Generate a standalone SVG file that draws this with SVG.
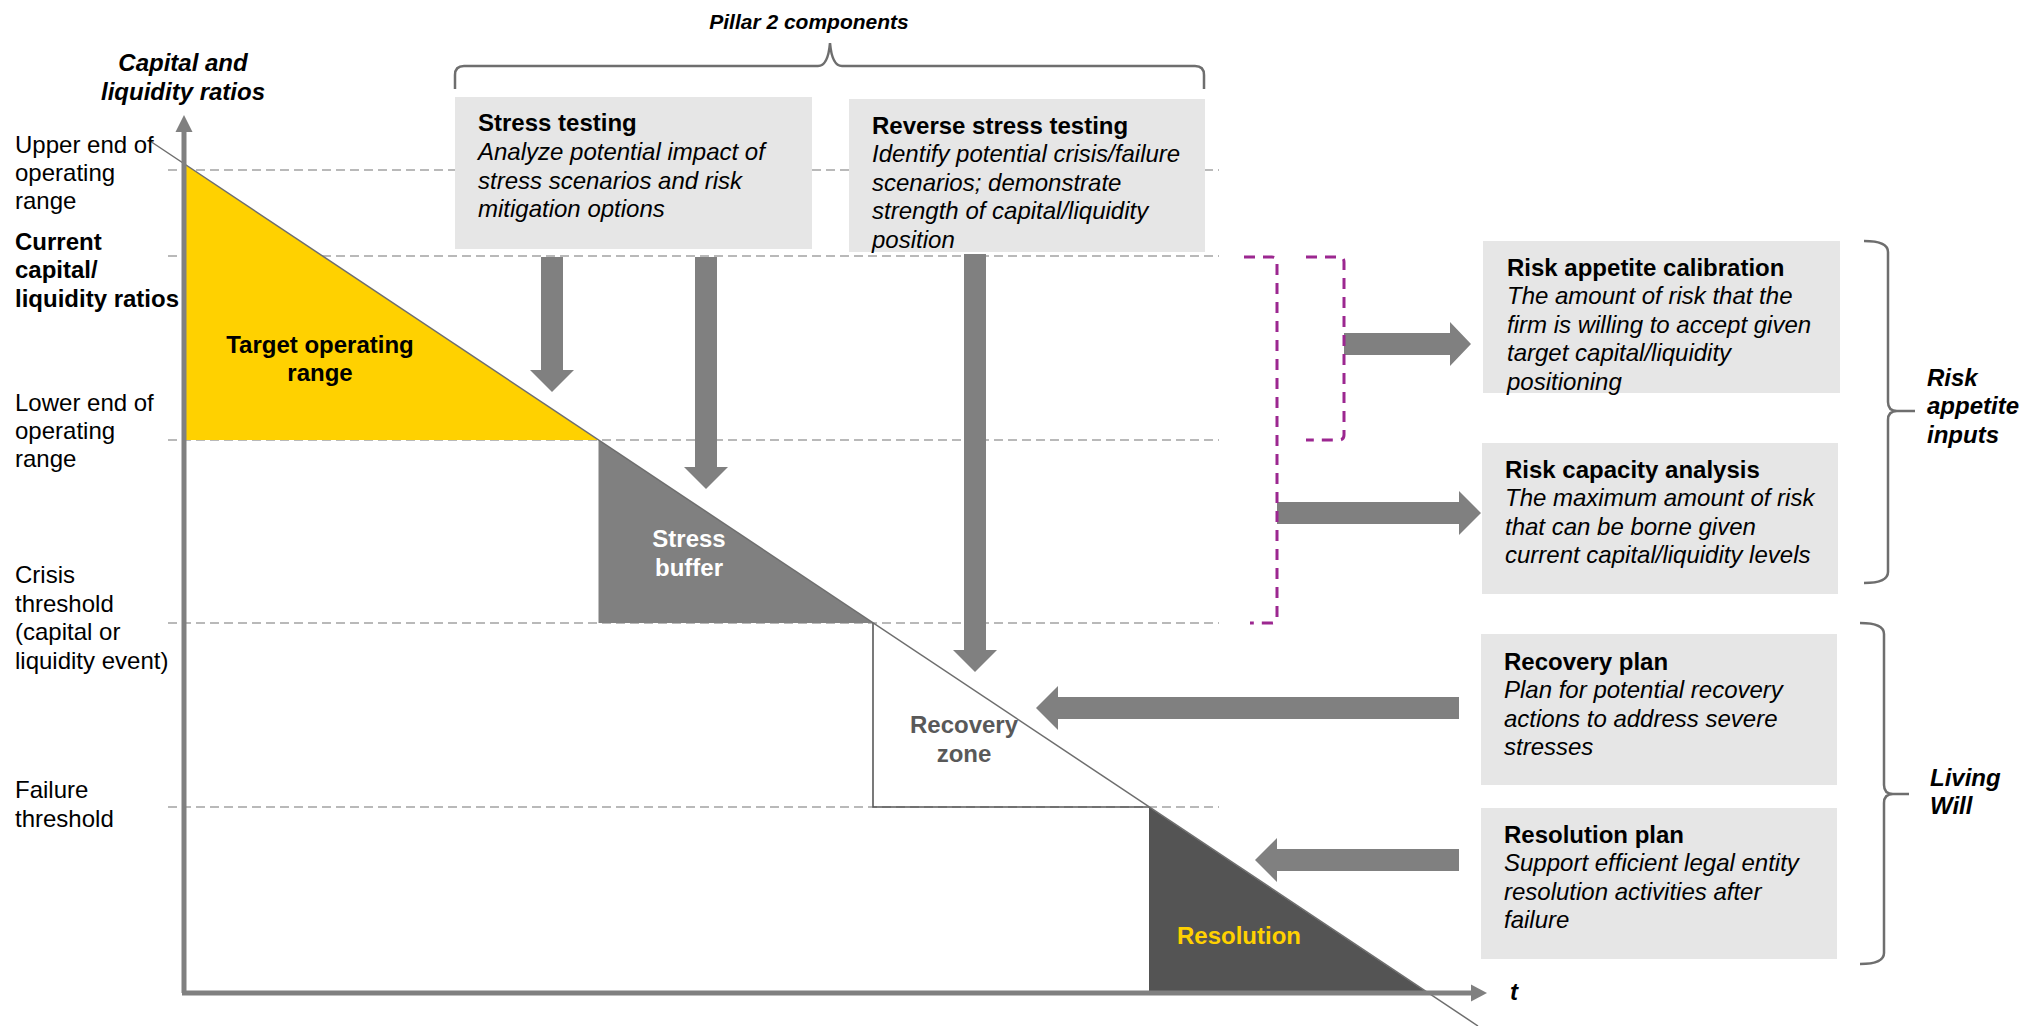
<svg xmlns="http://www.w3.org/2000/svg" width="2022" height="1026" viewBox="0 0 2022 1026">
<style>
text{font-family:"Liberation Sans",Arial,sans-serif;font-size:24px;fill:#000}
.b{font-weight:bold}
.i{font-style:italic}
.bi{font-weight:bold;font-style:italic}
.dash{stroke:#A3A3A3;stroke-width:1.6;stroke-dasharray:9 5;fill:none}
.pdash{stroke:#9C2790;stroke-width:3;stroke-dasharray:11 8;fill:none}
.box{fill:#E6E6E6}
.arr{fill:#808080}
.brace{stroke:#6E6E6E;stroke-width:2.5;fill:none}
.c{text-anchor:middle}
</style>
<rect width="2022" height="1026" fill="#fff"/>

<g id="gridlines">
<line class="dash" x1="168" y1="170" x2="1219" y2="170"/>
<line class="dash" x1="168" y1="256" x2="1219" y2="256"/>
<line class="dash" x1="168" y1="440" x2="1219" y2="440"/>
<line class="dash" x1="168" y1="623" x2="1219" y2="623"/>
<line class="dash" x1="168" y1="807" x2="1219" y2="807"/>
</g>

<g id="zones">
<g id="target-zone">
<polygon points="184,163.7 598.5,440 184,440" fill="#FFD100"/>
<text class="b c" x="320" y="353">Target operating</text>
<text class="b c" x="320" y="381">range</text>
</g>
<g id="stress-buffer">
<polygon points="598.5,440 873,623 598.5,623" fill="#808080"/>
<text class="b c" x="689" y="547" style="fill:#fff">Stress</text>
<text class="b c" x="689" y="576" style="fill:#fff">buffer</text>
</g>
<g id="recovery-zone">
<polyline points="873,623 873,807 1149,807" fill="none" stroke="#595959" stroke-width="1.6"/>
<text class="b c" x="964" y="733" style="fill:#595959">Recovery</text>
<text class="b c" x="964" y="762" style="fill:#595959">zone</text>
</g>
<g id="resolution-zone">
<polygon points="1149,807 1428,993 1149,993" fill="#545454"/>
<text class="b c" x="1239" y="944" style="fill:#FFD100">Resolution</text>
</g>
</g>

<g id="diagonal">
<line x1="150" y1="141" x2="1478" y2="1026" stroke="#6E6E6E" stroke-width="1.5"/>
</g>

<g id="axes">
<line x1="184" y1="993" x2="184" y2="130" stroke="#808080" stroke-width="5"/>
<polygon points="184,115 192.5,132 175.5,132" fill="#808080"/>
<line x1="182" y1="993" x2="1472" y2="993" stroke="#808080" stroke-width="5"/>
<polygon points="1487,993 1471,984.5 1471,1001.5" fill="#808080"/>
<text class="bi c" x="183" y="71">Capital and</text>
<text class="bi c" x="183" y="100">liquidity ratios</text>
<text class="bi" x="1510" y="1000">t</text>
</g>

<g id="axis-labels">
<text x="15" y="153">Upper end of</text>
<text x="15" y="181">operating</text>
<text x="15" y="209">range</text>
<text class="b" x="15" y="250">Current</text>
<text class="b" x="15" y="278">capital/</text>
<text class="b" x="15" y="307">liquidity ratios</text>
<text x="15" y="411">Lower end of</text>
<text x="15" y="439">operating</text>
<text x="15" y="467">range</text>
<text x="15" y="583">Crisis</text>
<text x="15" y="612">threshold</text>
<text x="15" y="640">(capital or</text>
<text x="15" y="669">liquidity event)</text>
<text x="15" y="798">Failure</text>
<text x="15" y="827">threshold</text>
</g>

<g id="pillar2-brace">
<path class="brace" d="M455,89 L455,75 Q455,66 464,66 L818,66 Q828,66 830,43 Q832,66 842,66 L1195,66 Q1204,66 1204,75 L1204,89"/>
<text class="bi c" x="809" y="29" style="font-size:21px">Pillar 2 components</text>
</g>

<g id="stress-testing">
<rect class="box" x="455" y="97" width="357" height="152"/>
<text class="b" x="478" y="131">Stress testing</text>
<text class="i" x="478" y="160">Analyze potential impact of</text>
<text class="i" x="478" y="189">stress scenarios and risk</text>
<text class="i" x="478" y="217">mitigation options</text>
</g>

<g id="reverse-stress-testing">
<rect class="box" x="849" y="99" width="356" height="153"/>
<text class="b" x="872" y="134">Reverse stress testing</text>
<text class="i" x="872" y="162">Identify potential crisis/failure</text>
<text class="i" x="872" y="191">scenarios; demonstrate</text>
<text class="i" x="872" y="219">strength of capital/liquidity</text>
<text class="i" x="872" y="248">position</text>
</g>

<g id="risk-appetite-calibration">
<rect class="box" x="1483" y="241" width="357" height="152"/>
<text class="b" x="1507" y="276">Risk appetite calibration</text>
<text class="i" x="1507" y="304">The amount of risk that the</text>
<text class="i" x="1507" y="333">firm is willing to accept given</text>
<text class="i" x="1507" y="361">target capital/liquidity</text>
<text class="i" x="1507" y="390">positioning</text>
</g>

<g id="risk-capacity-analysis">
<rect class="box" x="1482" y="443" width="356" height="151"/>
<text class="b" x="1505" y="478">Risk capacity analysis</text>
<text class="i" x="1505" y="506">The maximum amount of risk</text>
<text class="i" x="1505" y="535">that can be borne given</text>
<text class="i" x="1505" y="563">current capital/liquidity levels</text>
</g>

<g id="recovery-plan">
<rect class="box" x="1481" y="634" width="356" height="151"/>
<text class="b" x="1504" y="670">Recovery plan</text>
<text class="i" x="1504" y="698">Plan for potential recovery</text>
<text class="i" x="1504" y="727">actions to address severe</text>
<text class="i" x="1504" y="755">stresses</text>
</g>

<g id="resolution-plan">
<rect class="box" x="1481" y="808" width="356" height="151"/>
<text class="b" x="1504" y="843">Resolution plan</text>
<text class="i" x="1504" y="871">Support efficient legal entity</text>
<text class="i" x="1504" y="900">resolution activities after</text>
<text class="i" x="1504" y="928">failure</text>
</g>

<g id="risk-appetite-inputs">
<path class="brace" d="M1864,241 Q1888,241 1888,252 L1888,402 Q1888,411 1897,411 L1915,411 M1897,411 Q1888,411 1888,420 L1888,572 Q1888,583 1864,583"/>
<text class="bi" x="1927" y="386">Risk</text>
<text class="bi" x="1927" y="414">appetite</text>
<text class="bi" x="1927" y="443">inputs</text>
</g>

<g id="living-will">
<path class="brace" d="M1860,623 Q1884,623 1884,634 L1884,785 Q1884,794 1893,794 L1909,794 M1893,794 Q1884,794 1884,803 L1884,953 Q1884,964 1860,964"/>
<text class="bi" x="1930" y="786">Living</text>
<text class="bi" x="1930" y="814">Will</text>
</g>

<g id="connectors">
<polygon class="arr" points="541,257 563,257 563,370 574,370 552,392 530,370 541,370"/>
<polygon class="arr" points="695,257 717,257 717,467 728,467 706,489 684,467 695,467"/>
<polygon class="arr" points="964,254 986,254 986,650 997,650 975,672 953,650 964,650"/>
<polygon class="arr" points="1344,333 1450,333 1450,322 1471,344 1450,366 1450,355 1344,355"/>
<polygon class="arr" points="1277,502 1459,502 1459,491 1481,513 1459,535 1459,524 1277,524"/>
<polygon class="arr" points="1459,697 1058,697 1058,686 1036,708 1058,730 1058,719 1459,719"/>
<polygon class="arr" points="1459,849 1277,849 1277,838 1255,860 1277,882 1277,871 1459,871"/>
<path class="pdash" d="M1244,257 L1272,257 Q1277,257 1277,262 L1277,618 Q1277,623 1272,623 L1250,623"/>
<path class="pdash" d="M1306,257 L1339,257 Q1344,257 1344,262 L1344,435 Q1344,440 1339,440 L1306,440"/>
</g>
</svg>
